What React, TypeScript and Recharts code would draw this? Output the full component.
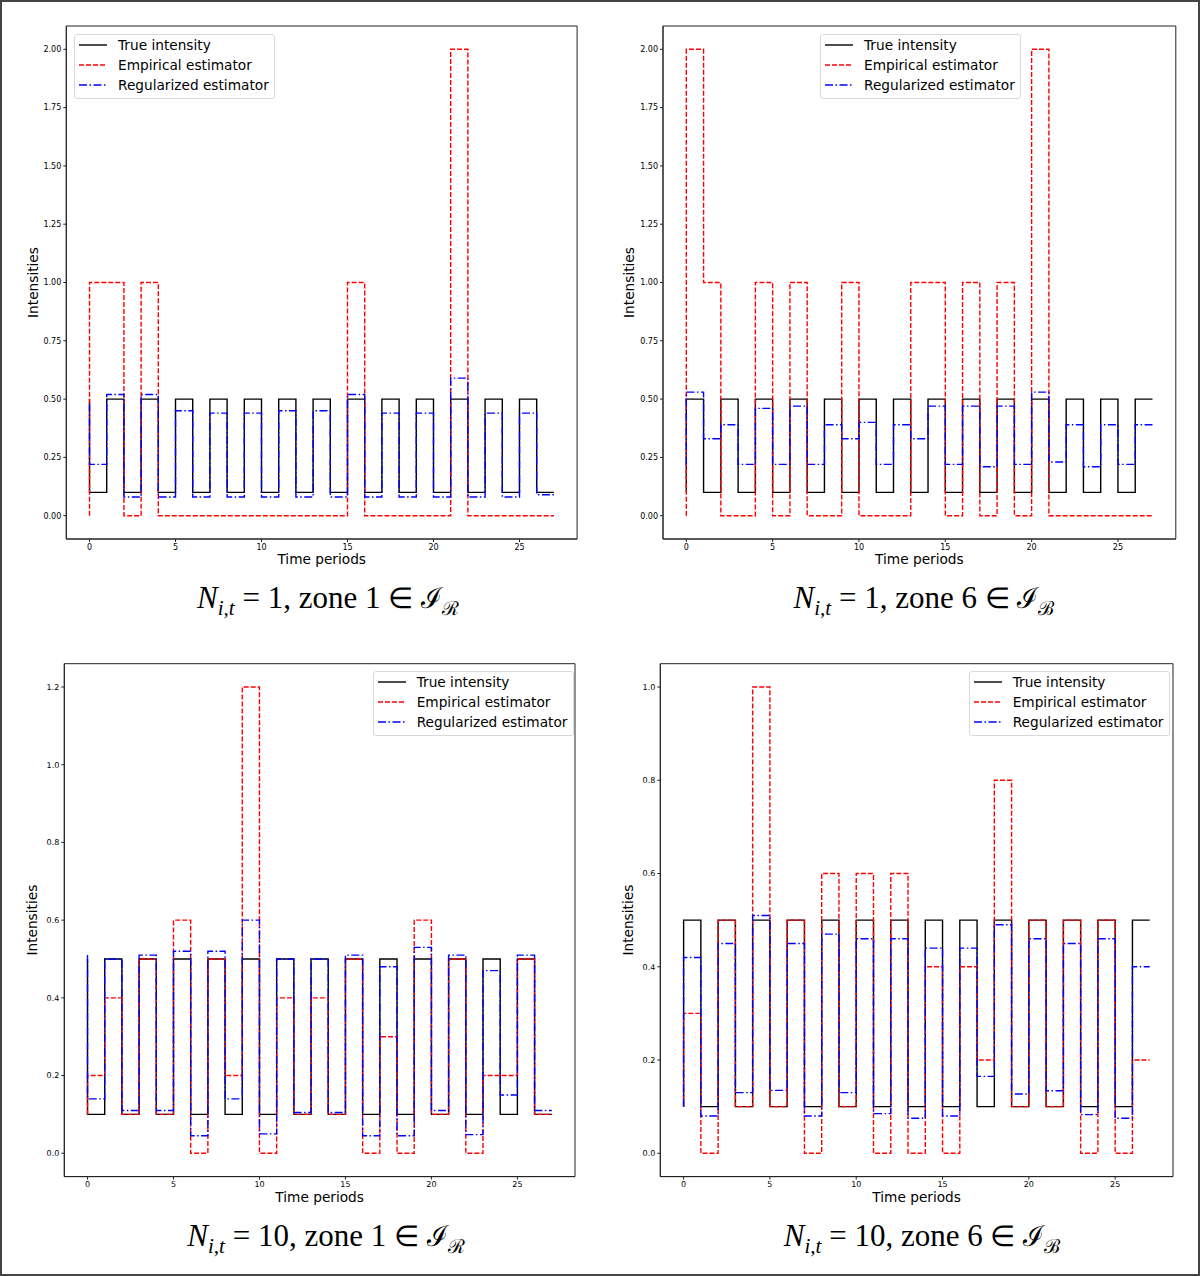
import React from "react";
import { LineChart, Line, XAxis, YAxis, Legend, ReferenceArea } from "recharts";

// time periods 0..27, drawn as "pre" steps like matplotlib's step()
const periods = [0, 1, 2, 3, 4, 5, 6, 7, 8, 9, 10, 11, 12, 13, 14, 15, 16, 17, 18, 19, 20, 21, 22, 23, 24, 25, 26, 27];
const xTicks = [0, 5, 10, 15, 20, 25];

const trueZone1 = [0.5, 0.1, 0.5, 0.1, 0.5, 0.1, 0.5, 0.1, 0.5, 0.1, 0.5, 0.1, 0.5, 0.1, 0.5, 0.1, 0.5, 0.1, 0.5, 0.1, 0.5, 0.1, 0.5, 0.1, 0.5, 0.1, 0.5, 0.1];
const trueZone6 = [0.1, 0.5, 0.1, 0.5, 0.1, 0.5, 0.1, 0.5, 0.1, 0.5, 0.1, 0.5, 0.1, 0.5, 0.1, 0.5, 0.1, 0.5, 0.1, 0.5, 0.1, 0.5, 0.1, 0.5, 0.1, 0.5, 0.1, 0.5];

const empZone1N1 = [0, 1, 1, 0, 1, 0, 0, 0, 0, 0, 0, 0, 0, 0, 0, 0, 1, 0, 0, 0, 0, 0, 2, 0, 0, 0, 0, 0];
const regZone1N1 = [0.48, 0.22, 0.52, 0.08, 0.52, 0.08, 0.45, 0.08, 0.44, 0.08, 0.44, 0.08, 0.45, 0.08, 0.45, 0.08, 0.52, 0.08, 0.44, 0.08, 0.44, 0.08, 0.59, 0.08, 0.44, 0.08, 0.44, 0.09];

const empZone6N1 = [0, 2, 1, 0, 0, 1, 0, 1, 0, 0, 1, 0, 0, 0, 1, 1, 0, 1, 0, 1, 0, 2, 0, 0, 0, 0, 0, 0];
const regZone6N1 = [0.22, 0.53, 0.33, 0.39, 0.22, 0.46, 0.22, 0.47, 0.22, 0.39, 0.33, 0.4, 0.22, 0.39, 0.33, 0.47, 0.22, 0.47, 0.21, 0.47, 0.22, 0.53, 0.23, 0.39, 0.21, 0.39, 0.22, 0.39];

const empZone1N10 = [0.1, 0.2, 0.4, 0.1, 0.5, 0.1, 0.6, 0.0, 0.5, 0.2, 1.2, 0.0, 0.4, 0.1, 0.4, 0.1, 0.5, 0.0, 0.3, 0.0, 0.6, 0.1, 0.5, 0.0, 0.2, 0.2, 0.5, 0.1];
const regZone1N10 = [0.51, 0.14, 0.5, 0.11, 0.51, 0.11, 0.52, 0.045, 0.52, 0.14, 0.6, 0.05, 0.5, 0.105, 0.5, 0.105, 0.51, 0.045, 0.48, 0.045, 0.53, 0.11, 0.51, 0.048, 0.47, 0.15, 0.51, 0.11];

const empZone6N10 = [0.1, 0.3, 0.0, 0.5, 0.1, 1.0, 0.1, 0.5, 0.0, 0.6, 0.1, 0.6, 0.0, 0.6, 0.0, 0.4, 0.0, 0.4, 0.2, 0.8, 0.1, 0.5, 0.1, 0.5, 0.0, 0.5, 0.0, 0.2];
const regZone6N10 = [0.1, 0.42, 0.08, 0.45, 0.13, 0.51, 0.135, 0.45, 0.08, 0.47, 0.13, 0.46, 0.085, 0.46, 0.075, 0.44, 0.08, 0.44, 0.165, 0.49, 0.127, 0.46, 0.134, 0.45, 0.083, 0.46, 0.075, 0.4];

const yTicksN1 = [0, 0.25, 0.5, 0.75, 1.0, 1.25, 1.5, 1.75, 2.0];
const yTicksZone1N10 = [0, 0.2, 0.4, 0.6, 0.8, 1.0, 1.2];
const yTicksZone6N10 = [0, 0.2, 0.4, 0.6, 0.8, 1.0];

const seriesNames = ["True intensity", "Empirical estimator", "Regularized estimator"];
const seriesKeys = ["truth", "emp", "reg"];
const seriesColors = ["#000000", "#ff0000", "#0000ff"];
const seriesDash = [undefined, "5 2", "8 2.5 1.5 2.5"];

const sans = "'DejaVu Sans', sans-serif";
const lineWidth = 1.4;

const LegendBox = () => (
    <div style={{
        width: 201, height: 65, boxSizing: "border-box", position: "relative",
        border: "1px solid #d9d9d9", borderRadius: 3, background: "rgba(255,255,255,0.85)",
        fontFamily: sans, fontSize: 13.7, color: "#000"
    }}>
        {seriesNames.map((name, i) =>
            <div key={name} style={{ position: "absolute", left: 0, top: 20 * i, height: 20, display: "flex", alignItems: "center", whiteSpace: "nowrap" }}>
                <svg width={43} height={20}>
                    <line x1={4} x2={32} y1={10} y2={10} stroke={seriesColors[i]} strokeWidth={lineWidth} strokeDasharray={seriesDash[i]} />
                </svg>
                <span>{name}</span>
            </div>
        )}
    </div>
);

type PanelProps = {
    left: number, top: number, width: number, height: number,
    marginTop: number, marginRight: number, yAxisWidth: number, xAxisHeight: number,
    truth: number[], emp: number[], reg: number[],
    yDomain: [number, number], yTicks: number[], decimals: number,
    legendLeft: number, legendTop: number
};

const Panel = (props: PanelProps) => {
    const rows = periods.map((t, i) => ({ t, truth: props.truth[i], emp: props.emp[i], reg: props.reg[i] }));
    const xDomain: [number, number] = [-1.35, 28.35];
    const tickStyle = { fill: "#000", fontSize: 8, fontFamily: sans };
    const labelStyle = { fill: "#000", fontSize: 13.7, fontFamily: sans };

    return <div style={{ position: "absolute", left: props.left, top: props.top }}>
        <LineChart width={props.width} height={props.height} data={rows}
            margin={{ top: props.marginTop, right: props.marginRight, left: 0, bottom: 0 }}>
            <XAxis dataKey="t" type="number" domain={xDomain} ticks={xTicks} interval={0}
                height={props.xAxisHeight} stroke="#222" tickSize={3} tick={tickStyle}
                label={{ value: "Time periods", position: "center", style: labelStyle }} />
            <YAxis type="number" domain={props.yDomain} ticks={props.yTicks} interval={0}
                width={props.yAxisWidth} stroke="#222" tickSize={3} tick={tickStyle}
                tickFormatter={(v: number) => v.toFixed(props.decimals)}
                label={{ value: "Intensities", angle: -90, position: "center", style: labelStyle }} />
            {/* plot frame */}
            <ReferenceArea x1={xDomain[0]} x2={xDomain[1]} y1={props.yDomain[0]} y2={props.yDomain[1]}
                fill="none" stroke="#222" strokeWidth={1} />
            {seriesKeys.map((k, i) =>
                <Line key={k} type="stepBefore" dataKey={k} stroke={seriesColors[i]} strokeWidth={lineWidth}
                    strokeDasharray={seriesDash[i]} dot={false} activeDot={false} isAnimationActive={false} />
            )}
            <Legend layout="vertical" align="center" verticalAlign="middle"
                wrapperStyle={{ left: props.legendLeft, top: props.legendTop, width: 201, height: 65 }}
                content={() => <LegendBox />} />
        </LineChart>
    </div>
};

const sub: React.CSSProperties = { fontSize: "0.68em", position: "relative", top: "0.32em" };
const symbol: React.CSSProperties = { fontFamily: "'DejaVu Sans', serif", fontWeight: 300, fontSize: "0.92em" };

const Caption = (props: { cx: number, baseline: number, n: number, zone: number, setSym: string }) => (
    <div style={{
        position: "absolute", left: props.cx - 250, width: 500, top: props.baseline - 25, height: 30,
        lineHeight: "30px", textAlign: "center", whiteSpace: "nowrap",
        fontFamily: "'Liberation Serif', 'DejaVu Serif', serif", fontSize: 31, color: "#000"
    }}>
        <i>N</i><span style={sub}><i>i,t</i></span>{" = "}{props.n}, zone {props.zone} <span style={symbol}>∈</span> <span style={symbol}>ℐ</span><span style={sub}><span style={symbol}>{props.setSym}</span></span>
    </div>
);

export default function App() {
    return <div style={{
        position: "absolute", left: 0, top: 0, width: 1200, height: 1276, background: "#fff",
        border: "2px solid #444", boxSizing: "border-box", overflow: "hidden"
    }}>
        <Panel left={-2} top={-2} width={600} height={580} marginTop={26} marginRight={22.9}
            yAxisWidth={66.3} xAxisHeight={41} truth={trueZone1} emp={empZone1N1} reg={regZone1N1}
            yDomain={[-0.1, 2.1]} yTicks={yTicksN1} decimals={2} legendLeft={74} legendTop={34} />
        <Panel left={594} top={-2} width={600} height={580} marginTop={26} marginRight={20.2}
            yAxisWidth={67} xAxisHeight={41} truth={trueZone6} emp={empZone6N1} reg={regZone6N1}
            yDomain={[-0.1, 2.1]} yTicks={yTicksN1} decimals={2} legendLeft={224} legendTop={34} />
        <Panel left={-2} top={636} width={600} height={580.6} marginTop={25.7} marginRight={25}
            yAxisWidth={64.3} xAxisHeight={42} truth={trueZone1} emp={empZone1N10} reg={regZone1N10}
            yDomain={[-0.06, 1.26]} yTicks={yTicksZone1N10} decimals={1} legendLeft={372.7} legendTop={33.3} />
        <Panel left={594} top={636} width={600} height={580.6} marginTop={25.7} marginRight={23}
            yAxisWidth={64.3} xAxisHeight={42} truth={trueZone6} emp={empZone6N10} reg={regZone6N10}
            yDomain={[-0.05, 1.05]} yTicks={yTicksZone6N10} decimals={1} legendLeft={372.7} legendTop={33.3} />
        <Caption cx={326} baseline={606} n={1} zone={1} setSym="ℛ" />
        <Caption cx={922} baseline={606} n={1} zone={6} setSym="ℬ" />
        <Caption cx={324} baseline={1244} n={10} zone={1} setSym="ℛ" />
        <Caption cx={920} baseline={1244} n={10} zone={6} setSym="ℬ" />
    </div>
}
